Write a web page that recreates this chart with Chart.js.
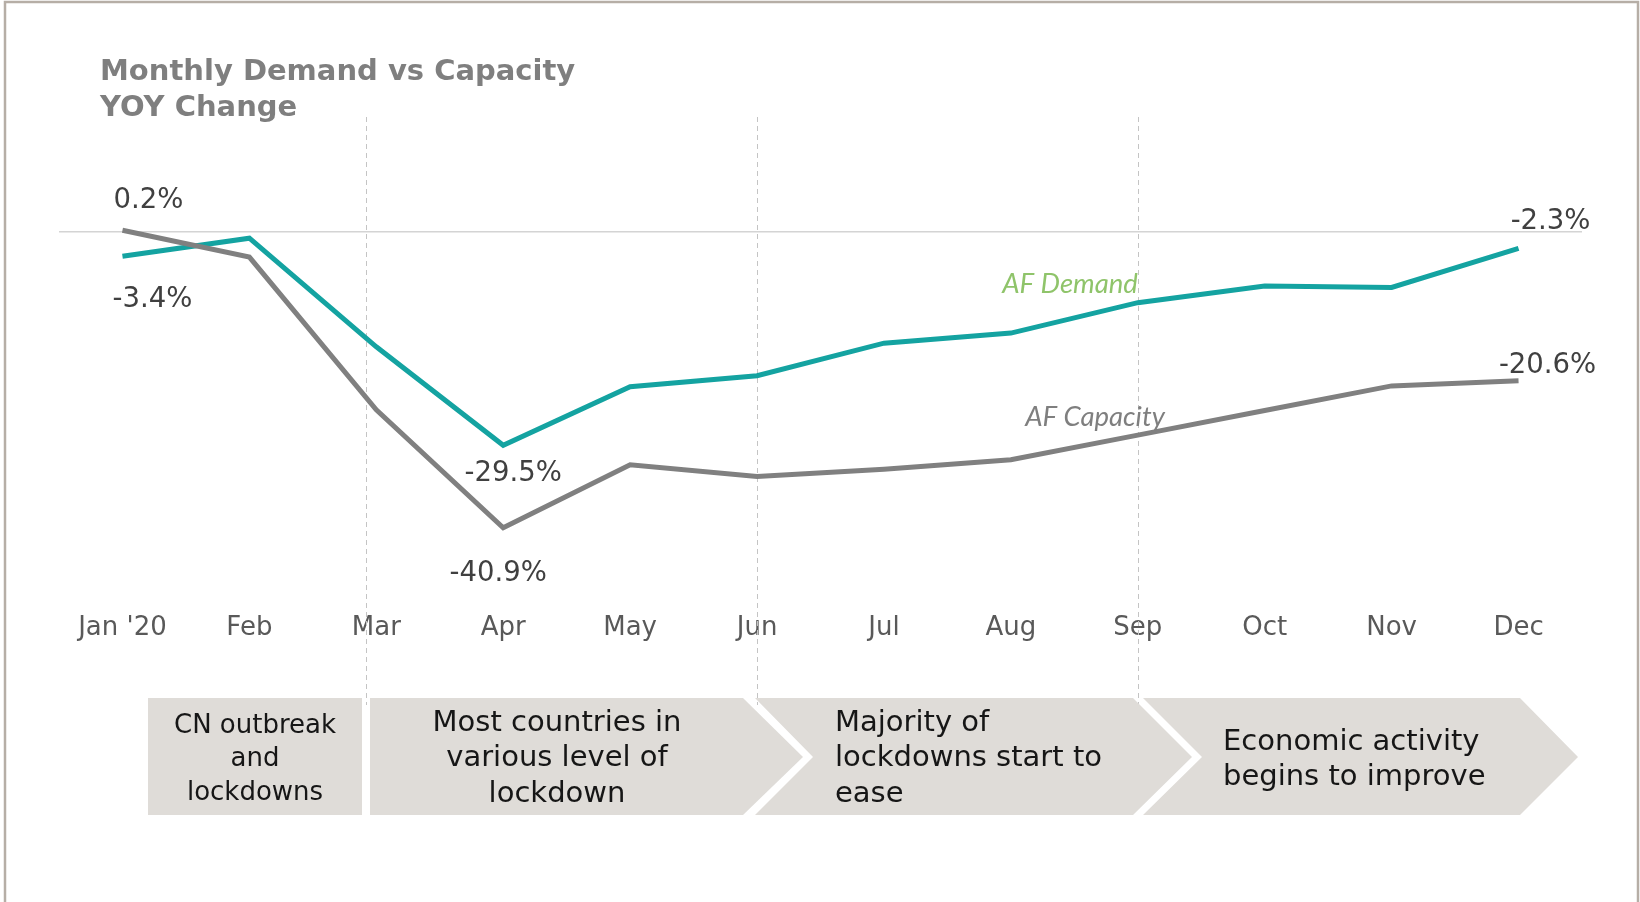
<!DOCTYPE html>
<html>
<head>
<meta charset="utf-8">
<script src="https://cdn.jsdelivr.net/npm/chart.js@4.4.0/dist/chart.umd.min.js"></script>
<style>
  html, body { margin: 0; padding: 0; background: #fff; }
  canvas { display: block; }
</style>
</head>
<body>
<canvas id="chart" width="1640" height="902"></canvas>
<script>
// values (YOY change, %)
const months = ["Jan '20", 'Feb', 'Mar', 'Apr', 'May', 'Jun', 'Jul', 'Aug', 'Sep', 'Oct', 'Nov', 'Dec'];
const demand = [-3.4, -0.9, -15.9, -29.5, -21.4, -19.9, -15.4, -14.0, -9.8, -7.5, -7.7, -2.3];
const capacity = [0.2, -3.5, -24.6, -40.9, -32.2, -33.8, -32.8, -31.5, -28.1, -24.7, -21.3, -20.6];
const phases = [
  ['CN outbreak', 'and', 'lockdowns'],
  ['Most countries in', 'various level of', 'lockdown'],
  ['Majority of', 'lockdowns start to', 'ease'],
  ['Economic activity', 'begins to improve']
];

const font = '"DejaVu Sans", Verdana, sans-serif';

function pct(v){
  return v.toFixed(1) + '%'
}

const extras = {
  id: 'extras',
  beforeDatasetsDraw(chart){
    const ctx = chart.ctx, x = chart.scales.x;
    // phase separators
    ctx.save();
    ctx.strokeStyle = '#c4c4c4';
    ctx.lineWidth = 1;
    ctx.setLineDash([5, 4]);
    [1.92, 5, 8].forEach(function(i){
      const px = Math.round(x.getPixelForValue(i)) + 0.5;
      ctx.beginPath();
      ctx.moveTo(px, 117);
      ctx.lineTo(px, 705);
      ctx.stroke();
    });
    ctx.restore();
  },
  afterDraw(chart){
    const ctx = chart.ctx;
    ctx.save();

    // frame
    ctx.strokeStyle = '#b6aea6';
    ctx.lineWidth = 2.5;
    ctx.strokeRect(5, 2, 1633, 920);

    // title
    ctx.fillStyle = '#7f7f7f';
    ctx.font = 'bold 29px ' + font;
    ctx.textBaseline = 'middle';
    ctx.textAlign = 'left';
    ctx.fillText('Monthly Demand vs Capacity', 100, 72);
    ctx.fillText('YOY Change', 100, 108);

    // end / low point labels
    const dm = chart.getDatasetMeta(1).data, cm = chart.getDatasetMeta(0).data;
    ctx.fillStyle = '#404040';
    ctx.font = '27.5px ' + font;
    ctx.textAlign = 'center';
    const lab = [
      [cm, 0, capacity, 26, -29],
      [dm, 0, demand, 30, 44],
      [dm, 3, demand, 10, 29],
      [cm, 3, capacity, -5, 46],
      [dm, 11, demand, 32, -26],
      [cm, 11, capacity, 29, -15]
    ];
    lab.forEach(function(l){
      const p = l[0][l[1]];
      ctx.fillText(pct(l[2][l[1]]), p.x + l[3], p.y + l[4]);
    });

    // series names
    ctx.font = 'italic 27.5px Lato, "Open Sans", sans-serif';
    ctx.fillStyle = '#8fc46a';
    ctx.fillText('AF Demand', 1070, 284);
    ctx.fillStyle = '#7f7f7f';
    ctx.fillText('AF Capacity', 1095, 417);

    // phase chevrons
    const top = 698, bot = 815, mid = 757;
    ctx.fillStyle = '#dfdcd8';
    const shapes = [
      [[148, top], [362, top], [362, bot], [148, bot]],
      [[370, top], [743, top], [803, mid], [743, bot], [370, bot]],
      [[755, top], [1133, top], [1192, mid], [1133, bot], [755, bot], [813, mid]],
      [[1143, top], [1520, top], [1578, mid], [1520, bot], [1143, bot], [1202, mid]]
    ];
    shapes.forEach(function(s){
      ctx.beginPath();
      ctx.moveTo(s[0][0], s[0][1]);
      for (let i = 1; i < s.length; i++) ctx.lineTo(s[i][0], s[i][1]);
      ctx.closePath();
      ctx.fill();
    });

    ctx.fillStyle = '#161616';
    // x, align, first line y, line step, font size
    const spots = [
      [255, 'center', 726, 33.5, 26],
      [557, 'center', 723, 35.5, 29],
      [835, 'left', 723, 35.5, 29],
      [1223, 'left', 742, 35.5, 29]
    ];
    phases.forEach(function(lines, k){
      const s = spots[k];
      ctx.textAlign = s[1];
      ctx.font = s[4] + 'px ' + font;
      lines.forEach(function(t, j){
        ctx.fillText(t, s[0], s[2] + j * s[3]);
      });
    });

    ctx.restore();
  }
};

const data = {
  labels: months,
  datasets: [{
    label: 'AF Capacity',
    data: capacity,
    borderColor: '#808080',
    borderWidth: 5,
    pointRadius: 0,
    tension: 0
  }, {
    label: 'AF Demand',
    data: demand,
    borderColor: '#14a3a1',
    borderWidth: 5,
    pointRadius: 0,
    tension: 0
  }]
};

const config = {
  type: 'line',
  data: data,
  options: {
    responsive: false,
    animation: false,
    layout: { padding: { left: 59, right: 58, top: 195.5, bottom: 248.3 } },
    plugins: { legend: { display: false }, tooltip: { enabled: false } },
    scales: {
      x: {
        offset: true,
        grid: { display: false, drawTicks: false },
        border: { display: false },
        ticks: { color: '#595959', padding: 18.7, font: { family: font, size: 26 } },
        afterFit: function(s){ s.height = 60 }
      },
      y: {
        min: -50,
        max: 5,
        border: { display: false },
        grid: {
          drawTicks: false,
          color: function(c){ return c.tick && c.tick.value === 0 ? '#d4d4d4' : 'rgba(0,0,0,0)' },
          lineWidth: 1.5
        },
        ticks: { display: false, stepSize: 5 },
        afterFit: function(s){ s.width = 0 }
      }
    }
  },
  plugins: [extras]
};

let ctx = document.getElementById('chart').getContext('2d')
new Chart(ctx, config)
</script>
</body>
</html>
